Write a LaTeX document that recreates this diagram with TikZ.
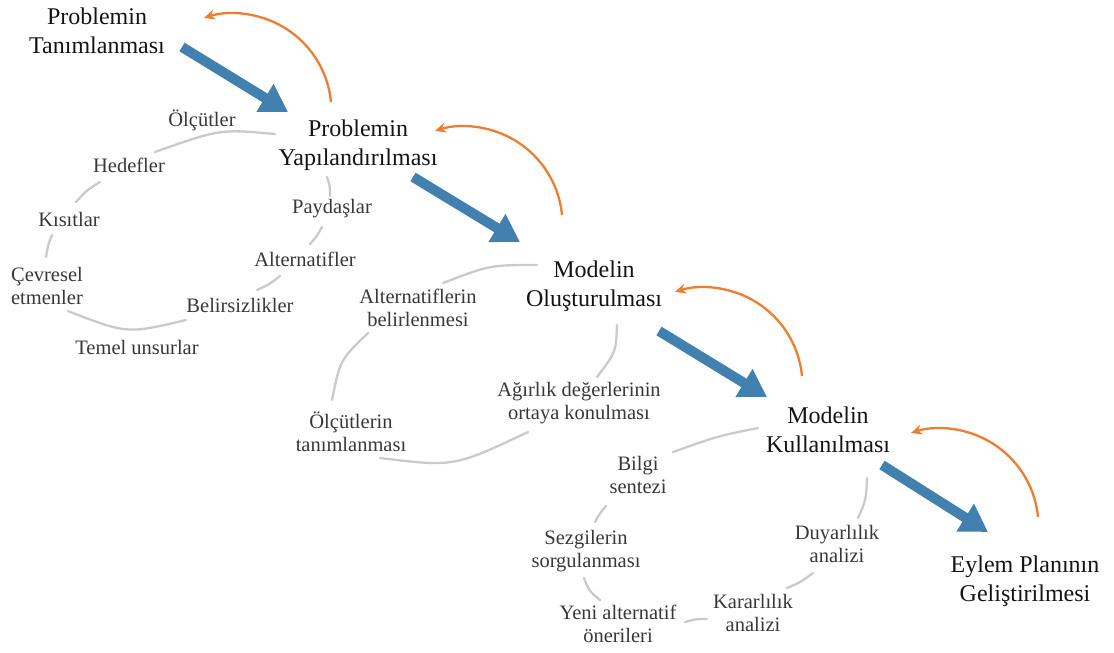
\documentclass[tikz,border=0pt]{standalone}
\usepackage{fontspec}
\setmainfont{Liberation Serif}
\usetikzlibrary{arrows.meta}
\definecolor{flowblue}{RGB}{66,128,176}
\definecolor{fborange}{RGB}{237,125,49}
\definecolor{ringgray}{RGB}{202,202,202}
\begin{document}
\begin{tikzpicture}[x=1pt,y=1pt,
  stage/.style={font=\fontsize{24}{28.5}\selectfont, align=center, text=black!92, inner sep=0pt},
  sub/.style={font=\fontsize{20.5}{22.5}\selectfont, align=center, text=black!78, inner sep=0pt},
  flow/.style={line width=10pt, draw=flowblue, -{Triangle[length=27pt,width=31pt]}},
  back/.style={line width=2.3pt, draw=fborange, -{Stealth[length=11pt,width=10pt]}},
  ring/.style={line width=2.3pt, draw=ringgray, line cap=round}]
\useasboundingbox (0,0) rectangle (1114,-653);

% main stages
\node[stage] (t1) at (97,-31)   {Problemin\\Tanımlanması};
\node[stage] (t2) at (358,-145) {Problemin\\Yapılandırılması};
\node[stage] (t3) at (594,-286) {Modelin\\Oluşturulması};
\node[stage] (t4) at (828,-430) {Modelin\\Kullanılması};
\node[stage] (t5) at (1025,-581) {Eylem Planının\\Geliştirilmesi};

% forward flow arrows
\coordinate (a1s) at (182,-47);  \coordinate (a1e) at (288,-112);
\coordinate (a2s) at (413,-177); \coordinate (a2e) at (520,-242);
\coordinate (a3s) at (659,-331); \coordinate (a3e) at (767,-397);
\coordinate (a4s) at (882,-465); \coordinate (a4e) at (988,-532);
\draw[flow] (a1s) -- (a1e);
\draw[flow] (a2s) -- (a2e);
\draw[flow] (a3s) -- (a3e);
\draw[flow] (a4s) -- (a4e);

% feedback arcs
\coordinate (b1) at (331,-102);
\coordinate (b2) at (562,-215);
\coordinate (b3) at (802,-376);
\coordinate (b4) at (1038,-517);
\foreach \b in {b1,b2,b3,b4}
  \draw[back] (\b) arc[start angle=5.5, end angle=107.5, radius=98];

% structuring elements
\node[sub] (s1) at (202,-120) {Ölçütler};
\node[sub] (s2) at (129,-165) {Hedefler};
\node[sub] (s3) at (69,-219)  {Kısıtlar};
\node[sub] (s4) at (47,-286)  {Çevresel\\etmenler};
\node[sub] (s5) at (137,-347) {Temel unsurlar};
\node[sub] (s6) at (240,-305) {Belirsizlikler};
\node[sub] (s7) at (305,-259) {Alternatifler};
\node[sub] (s8) at (332,-209) {Paydaşlar};

\draw[ring] (275,-134) .. controls (220,-129) .. (155,-152);
\draw[ring] (100,-182) .. controls (87,-190) .. (76,-202);
\draw[ring] (52,-235) .. controls (48,-245) .. (46,-257);
\draw[ring] (68,-311) .. controls (127,-334) .. (186,-320);
\draw[ring] (280,-276) .. controls (270,-284) .. (257,-290);
\draw[ring] (322,-227) .. controls (317,-236) .. (310,-244);
\draw[ring] (327,-177) .. controls (330,-186) .. (330,-196);

% modelling elements
\node[sub] (m1) at (418,-308) {Alternatiflerin\\belirlenmesi};
\node[sub] (m2) at (351,-432) {Ölçütlerin\\tanımlanması};
\node[sub] (m3) at (579,-403) {Ağırlık değerlerinin\\ortaya konulması};

\draw[ring] (537,-265) .. controls (490,-265) .. (443,-283);
\draw[ring] (368,-333) .. controls (340,-360) .. (332,-400);
\draw[ring] (380,-458) .. controls (454,-467) .. (528,-432);
\draw[ring] (617,-325) .. controls (616,-352) .. (597,-377);

% model use elements
\node[sub] (u1) at (638,-475) {Bilgi\\sentezi};
\node[sub] (u2) at (586,-551) {Sezgilerin\\sorgulanması};
\node[sub] (u3) at (618,-624) {Yeni alternatif\\önerileri};
\node[sub] (u4) at (753,-613) {Kararlılık\\analizi};
\node[sub] (u5) at (837,-544) {Duyarlılık\\analizi};

\draw[ring] (758,-428) .. controls (718,-436) .. (673,-452);
\draw[ring] (606,-506) .. controls (600,-513) .. (595,-522);
\draw[ring] (584,-578) .. controls (589,-591) .. (600,-600);
\draw[ring] (685,-622) .. controls (696,-619) .. (707,-619);
\draw[ring] (787,-588) .. controls (801,-582) .. (813,-573);
\draw[ring] (867,-478) .. controls (866,-500) .. (858,-518);
\end{tikzpicture}
\end{document}
